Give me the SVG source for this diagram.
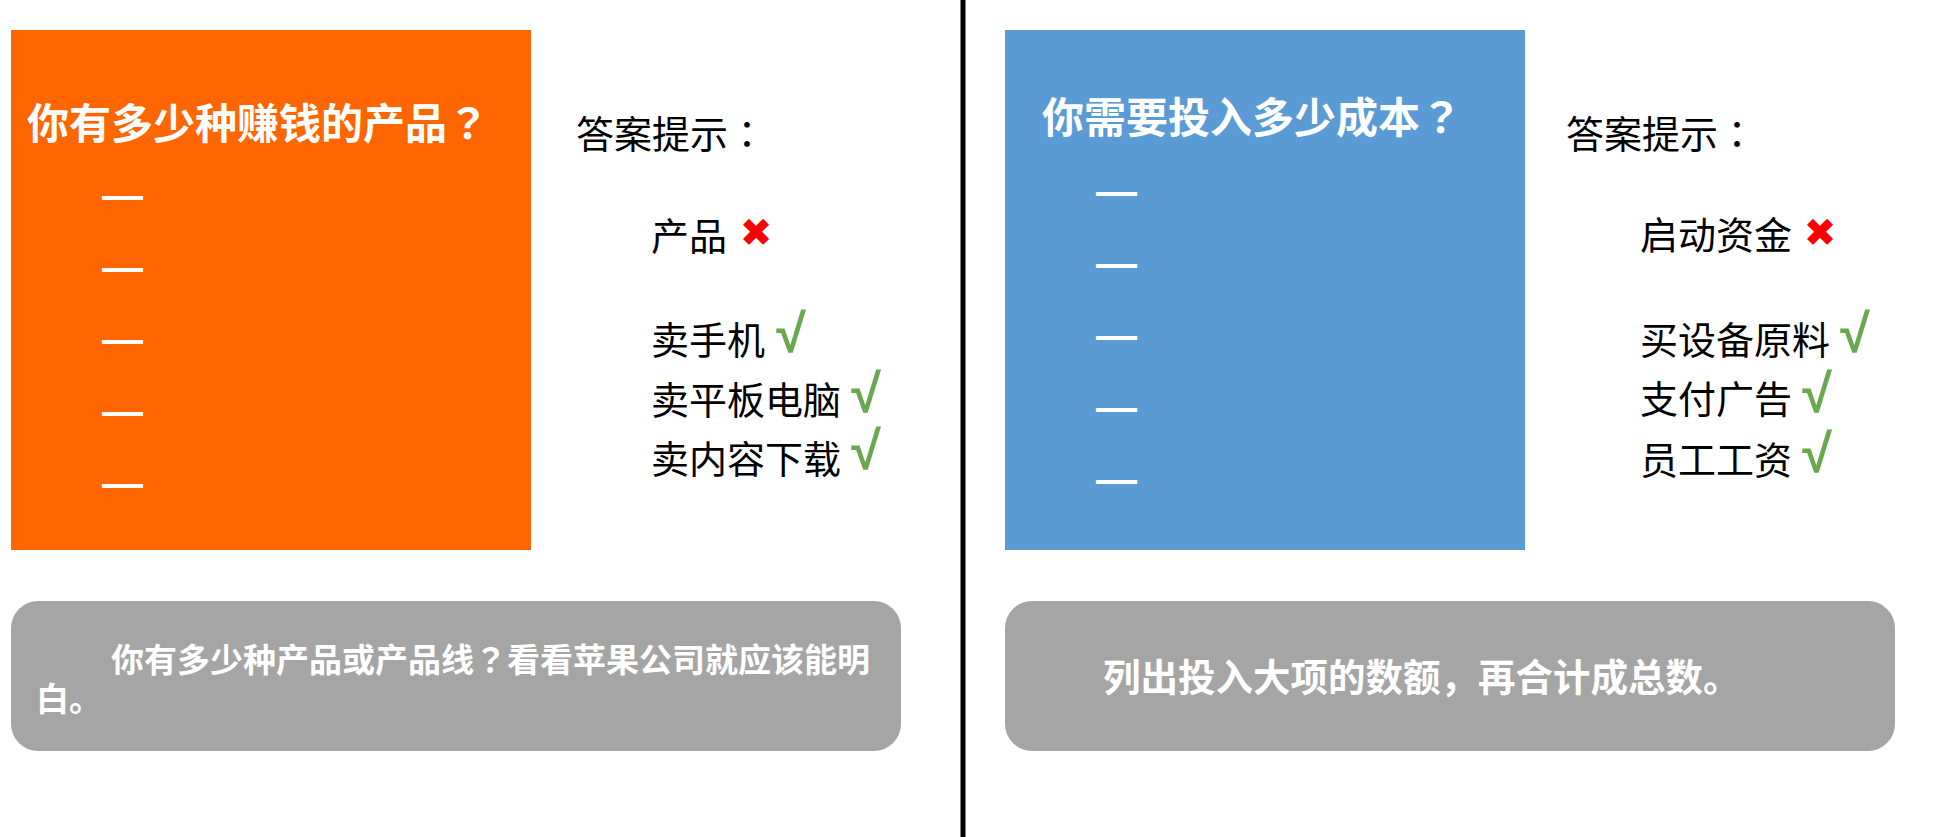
<svg xmlns="http://www.w3.org/2000/svg" width="1952" height="837" viewBox="0 0 1952 837">
  <style>
    .cjk { font-family: "Noto Sans CJK SC", "Noto Sans", sans-serif; }
    .p { font-family: "Noto Sans CJK JP", "Noto Sans CJK SC", sans-serif; }
    .title { font-size: 42px; font-weight: bold; fill: #ffffff; }
    .dash { font-family: "Liberation Sans", sans-serif; font-size: 41px; font-weight: bold; fill: #ffffff; }
    .hint { font-size: 38px; fill: #000000; }
    .note { font-weight: bold; fill: #ffffff; }
    .cross { font-family: "DejaVu Sans", sans-serif; font-size: 39px; fill: #ff0000; text-anchor: middle; }
    .tick { font-family: "Liberation Sans", sans-serif; font-size: 54px; font-weight: bold; fill: #6aa84f; text-anchor: middle; }
    .gray { fill: #a5a5a5; }
  </style>
  <rect width="1952" height="837" fill="#ffffff"/>

  <g id="divider">
    <rect x="960.5" y="0" width="5" height="837" fill="#000000"/>
  </g>

  <g id="left-question">
    <rect x="11" y="30" width="520" height="520" fill="#ff6600"/>
    <text class="cjk title" x="27" y="139">你有多少种赚钱的产品<tspan class="p">？</tspan></text>
    <text class="dash" x="102" y="209">—</text>
    <text class="dash" x="102" y="281">—</text>
    <text class="dash" x="102" y="353">—</text>
    <text class="dash" x="102" y="425">—</text>
    <text class="dash" x="102" y="497">—</text>
  </g>

  <g id="left-hints">
    <text class="cjk hint" x="576" y="148">答案提示<tspan class="p">：</tspan></text>
    <text class="cjk hint" x="651" y="250">产品</text>
    <text class="cross" x="756" y="246">✖</text>
    <text class="cjk hint" x="651" y="354">卖手机</text>
    <text class="tick" x="791" y="352">√</text>
    <text class="cjk hint" x="651" y="414">卖平板电脑</text>
    <text class="tick" x="866" y="412">√</text>
    <text class="cjk hint" x="651" y="473">卖内容下载</text>
    <text class="tick" x="866" y="469">√</text>
  </g>

  <g id="left-note">
    <rect class="gray" x="11" y="601" width="890" height="150" rx="27" ry="27"/>
    <text class="cjk note" font-size="33" x="111" y="672">你有多少种产品或产品线<tspan class="p">？</tspan>看看苹果公司就应该能明</text>
    <text class="cjk note" font-size="33" x="36" y="711">白。</text>
  </g>

  <g id="right-question">
    <rect x="1005" y="30" width="520" height="520" fill="#5b9bd5"/>
    <text class="cjk title" x="1042" y="133">你需要投入多少成本<tspan class="p">？</tspan></text>
    <text class="dash" x="1096" y="205">—</text>
    <text class="dash" x="1096" y="277">—</text>
    <text class="dash" x="1096" y="349">—</text>
    <text class="dash" x="1096" y="421">—</text>
    <text class="dash" x="1096" y="493">—</text>
  </g>

  <g id="right-hints">
    <text class="cjk hint" x="1566" y="148">答案提示<tspan class="p">：</tspan></text>
    <text class="cjk hint" x="1640" y="249">启动资金</text>
    <text class="cross" x="1820" y="246">✖</text>
    <text class="cjk hint" x="1640" y="354">买设备原料</text>
    <text class="tick" x="1855" y="352">√</text>
    <text class="cjk hint" x="1640" y="413">支付广告</text>
    <text class="tick" x="1817" y="412">√</text>
    <text class="cjk hint" x="1640" y="474">员工工资</text>
    <text class="tick" x="1817" y="472">√</text>
  </g>

  <g id="right-note">
    <rect class="gray" x="1005" y="601" width="890" height="150" rx="27" ry="27"/>
    <text class="cjk note" font-size="37.5" x="1103" y="691">列出投入大项的数额，再合计成总数。</text>
  </g>
</svg>
